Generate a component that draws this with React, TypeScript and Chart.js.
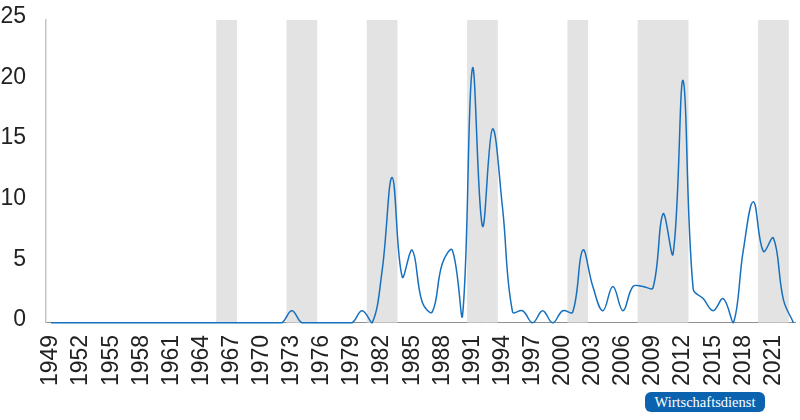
import React, { useEffect, useRef } from "react";
import { Chart, registerables } from "chart.js";

Chart.register(...registerables);

const firstYear = 1949;
const values: number[] = [
  // 1949-1971
  0, 0, 0, 0, 0, 0, 0, 0, 0, 0, 0, 0, 0, 0, 0, 0, 0, 0, 0, 0, 0, 0, 0,
  // 1972-1981
  0, 1, 0, 0, 0, 0, 0, 0, 1, 0,
  // 1982-1991
  4.3, 12, 3.8, 6, 1.7, 0.9, 4.9, 6, 0.5, 21,
  // 1992-2001
  8, 16, 9.5, 0.9, 1, 0, 1, 0, 1, 0.9,
  // 2002-2011
  6, 3, 1, 3, 1, 3, 3, 2.9, 9, 5.7,
  // 2012-2021
  20, 2.8, 2, 1, 2, 0, 6, 10, 5.9, 7,
  // 2022-2023
  1.9, 0,
];
const years: number[] = values.map((_, i) => firstYear + i);

const recessionYears: number[] = [
  1966, 1967, 1973, 1974, 1975, 1981, 1982, 1983, 1991, 1992, 1993, 2001,
  2002, 2008, 2009, 2010, 2011, 2012, 2020, 2021, 2022,
];
const recessionLevel = 25;

const tickYears: number[] = [
  1949, 1952, 1955, 1958, 1961, 1964, 1967, 1970, 1973, 1976, 1979, 1982,
  1985, 1988, 1991, 1994, 1997, 2000, 2003, 2006, 2009, 2012, 2015, 2018,
  2021,
];
const yTicks: number[] = [0, 5, 10, 15, 20, 25];

const FONT = "'Liberation Sans', Arial, sans-serif";

export default function App() {
  const ref = useRef<HTMLCanvasElement | null>(null);

  useEffect(() => {
    if (!ref.current) return;
    const chart = new Chart(ref.current, {
      type: "line",
      data: {
        datasets: [
          {
            type: "line",
            data: years.map((y, i) => ({ x: y, y: values[i] })),
            borderColor: "#1770bd",
            borderWidth: 1.5,
            pointRadius: 0,
            tension: 0.4,
            fill: false,
            clip: 6,
            order: 1,
          } as any,
          {
            type: "bar",
            data: recessionYears.map((y) => ({ x: y, y: recessionLevel })),
            backgroundColor: "#e3e3e3",
            borderWidth: 0,
            barPercentage: 1,
            categoryPercentage: 1,
            order: 2,
          } as any,
        ],
      },
      options: {
        animation: false,
        responsive: false,
        maintainAspectRatio: false,
        layout: { padding: { left: 1, right: 5, top: 20, bottom: 22 } },
        plugins: {
          legend: { display: false },
          tooltip: { enabled: false },
        },
        scales: {
          x: {
            type: "linear",
            min: 1948.5,
            max: 2023.15,
            offset: false,
            afterBuildTicks: (scale: any) => {
              scale.ticks = tickYears.map((v) => ({ value: v }));
            },
            afterFit: (scale: any) => {
              scale.paddingLeft = 0;
              scale.paddingRight = 0;
            },
            ticks: {
              autoSkip: false,
              minRotation: 90,
              maxRotation: 90,
              padding: 12,
              color: "#222",
              font: { family: FONT, size: 23 },
              callback: (v: any) => String(v),
            },
            grid: { display: true, drawOnChartArea: false, drawTicks: false },
            border: { display: true, color: "#8f8f8f", width: 1 },
          },
          y: {
            type: "linear",
            min: 0,
            max: 25,
            afterBuildTicks: (scale: any) => {
              scale.ticks = yTicks.map((v) => ({ value: v }));
            },
            afterFit: (scale: any) => {
              scale.width = 45;
              scale.paddingTop = 0;
              scale.paddingBottom = 0;
            },
            ticks: {
              padding: 20,
              labelOffset: -3,
              color: "#222",
              font: { family: FONT, size: 23 },
            },
            grid: { display: true, drawOnChartArea: false, drawTicks: false },
            border: { display: true, color: "#c4c4c4", width: 1.5 },
          },
        },
      },
    });
    return () => chart.destroy();
  }, []);

  return (
    <div
      style={{
        position: "absolute",
        left: 0,
        top: 0,
        width: 800,
        height: 420,
        background: "#fff",
      }}
    >
      <canvas ref={ref} width={800} height={420} style={{ width: 800, height: 420, display: "block" }} />
      <div
        style={{
          position: "absolute",
          left: 645,
          top: 392,
          width: 120,
          height: 20,
          background: "#0b63b0",
          borderRadius: 6,
          color: "#fff",
          fontFamily: "'Liberation Serif', 'DejaVu Serif', serif",
          fontSize: 14.5,
          fontWeight: 400,
          lineHeight: "20px",
          textAlign: "center",
        }}
      >
        Wirtschaftsdienst
      </div>
    </div>
  );
}
